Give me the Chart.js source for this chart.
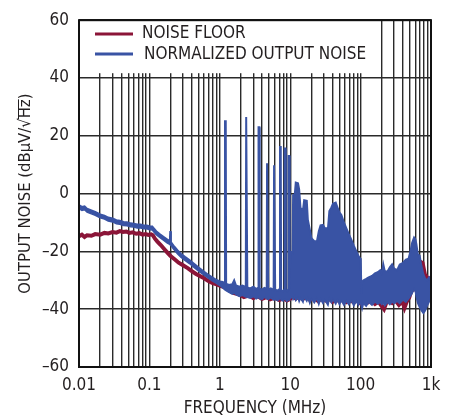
<!DOCTYPE html>
<html>
<head>
<meta charset="utf-8">
<script src="https://cdn.jsdelivr.net/npm/chart.js@4"></script>
<style>
  body { margin: 0; background: #fff; }
  #wrap { width: 458px; height: 419px; position: relative; }
</style>
</head>
<body>
<div id="wrap"><canvas id="chart"></canvas></div>
<script>
const FONT = "'Liberation Sans Narrow', 'DejaVu Sans Condensed', sans-serif";
const TEXT = "#231f20";
const RED = "#8b1538";
const BLUE = "#3953a4";

// x decades and their tick labels (MHz)
const xDecades = [0.01, 0.1, 1, 10, 100, 1000];
const xTickLabels = ["0.01", "0.1", "1", "10", "100", "1k"];
const yTicks = [-60, -40, -20, 0, 20, 40, 60];

const seriesNames = ["NOISE FLOOR", "NORMALIZED OUTPUT NOISE"];

// noise floor (MHz, dB)
const floorFreq = [0.01, 0.011, 0.012, 0.013, 0.015, 0.017, 0.02, 0.023, 0.026, 0.03, 0.034, 0.038, 0.042, 0.047, 0.052, 0.058, 0.065, 0.072, 0.08, 0.088, 0.097, 0.106, 0.112, 0.12, 0.13, 0.145, 0.16, 0.18, 0.2, 0.23, 0.26, 0.3, 0.35, 0.4, 0.46, 0.53, 0.6, 0.68, 0.78, 0.9, 1.0, 1.2, 1.4, 1.6, 1.9, 2.2, 2.6, 3.0, 3.4, 4, 4.6, 5.2, 6, 7, 8, 9, 10, 11, 12, 13.5, 15, 17, 19, 22, 25, 28, 32, 36, 40, 45, 50, 56, 63, 70, 80, 90, 100, 110, 125, 140, 160, 180, 200, 215, 230, 250, 280, 310, 350, 390, 420, 450, 490, 520, 560, 590, 620, 660, 700, 760, 820, 880, 950, 1000];
const floorDb = [-14.8, -14.2, -15.0, -14.4, -14.6, -14.0, -14.2, -13.6, -13.8, -13.3, -13.5, -13.0, -13.3, -13.1, -13.6, -13.4, -13.9, -13.7, -14.2, -14.0, -14.3, -14.1, -14.4, -15.6, -16.6, -17.8, -19.0, -20.4, -21.6, -22.8, -23.9, -24.8, -25.8, -26.8, -27.8, -28.6, -29.3, -30.2, -30.9, -31.4, -31.8, -32.5, -33.6, -34.4, -34.9, -35.8, -35.2, -36.2, -35.4, -36.4, -35.8, -36.6, -36.0, -36.8, -36.2, -37.0, -36.4, -35.6, -36.3, -35.5, -36.5, -35.8, -36.8, -36.0, -37.2, -36.2, -37.0, -36.4, -37.4, -36.6, -37.2, -36.5, -37.5, -36.8, -37.6, -36.9, -38.0, -37.2, -37.8, -37.0, -38.2, -37.4, -39.0, -40.0, -38.0, -37.0, -37.8, -36.8, -38.5, -37.2, -39.5, -37.5, -36.0, -34.0, -33.0, -29.5, -33.5, -35.0, -23.5, -24.0, -28.0, -29.0, -29.5, -29.0];

// normalized output noise, upper and lower edge of the trace (MHz, dB)
// below 1 MHz
const lfFreq = [0.01, 0.011, 0.012, 0.013, 0.015, 0.017, 0.02, 0.023, 0.026, 0.03, 0.034, 0.038, 0.043, 0.048, 0.054, 0.06, 0.067, 0.075, 0.083, 0.092, 0.1, 0.11, 0.115, 0.125, 0.14, 0.16, 0.18, 0.195, 0.198, 0.202, 0.22, 0.25, 0.28, 0.32, 0.37, 0.43, 0.5, 0.58, 0.67, 0.78, 0.9];
const lfHigh = [-4.0, -4.6, -4.4, -5.2, -5.8, -6.3, -7.2, -7.6, -8.3, -8.6, -9.2, -9.4, -9.8, -9.9, -10.3, -10.4, -10.7, -10.7, -11.0, -11.0, -11.3, -11.4, -12.0, -13.0, -14.0, -15.0, -15.9, -16.4, -13.0, -16.8, -18.0, -19.6, -20.8, -21.9, -23.0, -24.3, -25.6, -26.8, -27.9, -29.0, -29.9];
const lfLow = [-5.2, -5.8, -5.6, -6.4, -7.0, -7.5, -8.4, -8.8, -9.5, -9.8, -10.4, -10.6, -11.0, -11.1, -11.5, -11.6, -11.9, -11.9, -12.2, -12.2, -12.5, -12.6, -13.2, -14.2, -15.2, -16.2, -17.1, -17.6, -17.8, -18.0, -19.2, -20.8, -22.0, -23.1, -24.2, -25.5, -26.8, -28.0, -29.1, -30.2, -31.1];
// 1 to 10 MHz, with the switching spurs
const spurFreq = [1.0, 1.1, 1.17, 1.185, 1.215, 1.23, 1.35, 1.5, 1.6, 1.7, 1.9, 2.1, 2.34, 2.37, 2.43, 2.46, 2.7, 3.0, 3.3, 3.51, 3.55, 3.65, 3.69, 4.0, 4.3, 4.64, 4.69, 4.81, 4.87, 5.3, 5.82, 5.9, 6.05, 6.12, 6.6, 7.08, 7.16, 7.34, 7.43, 7.9, 8.24, 8.34, 8.56, 8.66, 9.0, 9.36, 9.48, 9.72, 9.84, 10.0];
const spurHigh = [-30.4, -30.6, -31.0, 25.0, 25.0, -31.2, -31.6, -31.4, -30.0, -31.8, -32.2, -31.8, -32.4, 26.5, 26.5, -32.5, -32.8, -32.2, -33.0, -32.6, 23.0, 23.0, -32.8, -33.2, -32.6, -33.0, 10.5, 10.5, -33.2, -32.8, -33.4, 9.8, 9.8, -33.2, -33.6, -33.0, 16.1, 16.1, -33.4, -33.8, -33.2, 15.6, 15.6, -33.4, -33.8, -33.2, 13.0, 13.0, -33.0, -20.0];
const spurLow = [-31.8, -32.6, -33.2, -33.3, -33.4, -33.6, -34.2, -34.8, -34.4, -35.0, -35.6, -35.2, -35.8, -35.8, -35.8, -35.9, -36.2, -35.6, -36.4, -36.0, -36.0, -36.0, -36.2, -36.6, -35.8, -36.4, -36.4, -36.4, -36.6, -36.0, -36.8, -36.8, -36.8, -36.6, -37.0, -36.4, -36.4, -36.4, -36.8, -37.2, -36.6, -36.6, -36.6, -36.8, -37.2, -36.8, -36.8, -36.8, -36.6, -36.2];
// above 10 MHz
const hfFreq = [10.8, 11.0, 11.6, 12.0, 12.9, 13.4, 14.0, 15.2, 15.8, 17.2, 17.8, 19.0, 20.0, 22.0, 24.0, 25.5, 27.0, 29.2, 31.0, 34.4, 36.0, 38.5, 40.5, 44.3, 47.0, 50.0, 53.3, 58.0, 62.8, 68.0, 74.0, 80.0, 87.0, 93.0, 97.0, 100.5, 102.6, 105, 110, 120, 130, 145, 160, 175, 190, 200, 210, 220, 240, 260, 280, 300, 330, 360, 400, 440, 480, 510, 540, 575, 600, 620, 650, 690, 730, 780, 830, 880, 940, 1000];
const hfHigh = [-20.5, -0.5, -0.4, 3.8, 3.6, 1.5, -5.0, -5.6, -2.3, -2.5, -9.0, -12.5, -15.4, -16.5, -16.5, -13.0, -11.0, -10.8, -12.0, -12.0, -6.0, -4.8, -3.5, -3.1, -4.8, -6.5, -7.4, -10.0, -12.0, -14.0, -16.0, -18.0, -20.0, -21.5, -22.3, -22.6, -34.7, -30.5, -30.0, -29.5, -29.0, -28.5, -27.6, -27.2, -26.5, -27.5, -24.5, -26.8, -27.0, -25.5, -24.5, -26.0, -26.5, -24.5, -24.0, -22.8, -22.5, -20.0, -17.0, -15.2, -15.8, -17.5, -21.0, -21.5, -25.0, -28.0, -29.5, -30.0, -29.0, -30.0];
const hfLow = [-35.8, -36.6, -35.6, -37.0, -36.0, -37.4, -36.2, -37.6, -35.8, -37.2, -36.0, -38.0, -36.4, -37.8, -36.2, -38.4, -36.6, -38.0, -36.8, -38.6, -36.4, -37.8, -36.6, -38.2, -36.8, -38.4, -37.0, -38.6, -37.2, -38.4, -37.0, -38.8, -37.2, -38.6, -37.6, -38.2, -39.0, -40.0, -38.0, -39.0, -37.6, -38.6, -37.4, -38.2, -37.6, -38.4, -37.8, -38.8, -37.6, -38.4, -37.4, -38.0, -37.2, -38.0, -36.8, -37.6, -36.4, -35.5, -34.5, -33.0, -34.0, -36.0, -38.0, -39.5, -40.5, -41.5, -40.5, -39.0, -37.5, -36.5];

const noiseFreq = lfFreq.concat(spurFreq, hfFreq);
const noiseHigh = lfHigh.concat(spurHigh, hfHigh);
const noiseLow = lfLow.concat(spurLow, hfLow);

function pts(xs, ys) {
  return xs.map((x, i) => ({ x: x, y: ys[i] }));
}

// minor log ticks 1..9 per decade
function logTicks() {
  const t = [];
  for (let d = 0; d < xDecades.length - 1; d++) {
    for (let m = 1; m <= 9; m++) t.push(Number((m * xDecades[d]).toPrecision(3)));
  }
  t.push(xDecades[xDecades.length - 1]);
  return t;
}

const frame = {
  id: "frame",
  beforeDatasetsDraw(chart) {
    const ctx = chart.ctx;
    const a = chart.chartArea;
    ctx.save();
    // legend box sits over the grid
    ctx.fillStyle = "#fff";
    ctx.fillRect(a.left, a.top, 289, 53);
    ctx.lineWidth = 3;
    ctx.strokeStyle = RED;
    ctx.beginPath(); ctx.moveTo(95, 34); ctx.lineTo(133, 34); ctx.stroke();
    ctx.strokeStyle = BLUE;
    ctx.beginPath(); ctx.moveTo(95, 54); ctx.lineTo(133, 54); ctx.stroke();
    ctx.fillStyle = TEXT;
    ctx.font = "17px " + FONT;
    ctx.textBaseline = "middle";
    ctx.fillText(seriesNames[0], 142, 34);
    ctx.fillText(seriesNames[1], 144, 55);
    ctx.restore();
  },
  afterDatasetsDraw(chart) {
    const ctx = chart.ctx;
    const a = chart.chartArea;
    ctx.save();
    ctx.strokeStyle = "#111";
    ctx.lineWidth = 2;
    ctx.strokeRect(a.left, a.top, a.right - a.left, a.bottom - a.top);
    // y title, overline on Hz
    const pre = "OUTPUT NOISE (dBμV/√";
    const hz = "Hz";
    const full = pre + hz + ")";
    ctx.font = "16.5px " + FONT;
    ctx.fillStyle = TEXT;
    ctx.translate(26, (a.top + a.bottom) / 2);
    ctx.rotate(-Math.PI / 2);
    ctx.textAlign = "left";
    ctx.textBaseline = "middle";
    const w = ctx.measureText(full).width;
    const x0 = -w / 2;
    ctx.fillText(full, x0, 0);
    const pw = ctx.measureText(pre).width;
    const hw = ctx.measureText(hz).width;
    ctx.strokeStyle = TEXT;
    ctx.lineWidth = 1;
    ctx.beginPath();
    ctx.moveTo(x0 + pw - 1, -7.5);
    ctx.lineTo(x0 + pw + hw, -7.5);
    ctx.stroke();
    ctx.restore();
  }
};

new Chart(document.getElementById("chart"), {
  type: "line",
  data: {
    datasets: [
      {
        label: seriesNames[1] + " low",
        data: pts(noiseFreq, noiseLow),
        borderColor: BLUE,
        borderWidth: 1.5,
        pointRadius: 0,
        fill: false
      },
      {
        label: seriesNames[1],
        data: pts(noiseFreq, noiseHigh),
        borderColor: BLUE,
        backgroundColor: BLUE,
        borderWidth: 2,
        pointRadius: 0,
        fill: "-1"
      },
      {
        label: seriesNames[0],
        data: pts(floorFreq, floorDb),
        borderColor: RED,
        borderWidth: 4,
        pointRadius: 0,
        fill: false
      }
    ]
  },
  options: {
    responsive: true,
    maintainAspectRatio: false,
    animation: false,
    layout: { padding: { top: 16, right: 27, left: 0, bottom: 0 } },
    plugins: {
      legend: { display: false },
      tooltip: { enabled: false }
    },
    elements: { line: { tension: 0 } },
    scales: {
      x: {
        type: "logarithmic",
        min: 0.01,
        max: 1000,
        afterBuildTicks: s => { s.ticks = logTicks().map(v => ({ value: v })); },
        afterFit: s => { s.height = 52; },
        border: { display: false },
        grid: { color: "#2a2a2a", lineWidth: 1.4, drawTicks: false },
        ticks: {
          autoSkip: false,
          maxRotation: 0,
          padding: 8,
          color: TEXT,
          font: { family: FONT, size: 17 },
          callback: v => {
            const i = xDecades.findIndex(d => Math.abs(d - v) < d * 1e-6);
            return i >= 0 ? xTickLabels[i] : "";
          }
        },
        title: {
          display: true,
          text: "FREQUENCY (MHz)",
          color: TEXT,
          font: { family: FONT, size: 17 },
          padding: { top: 0, bottom: 0 }
        }
      },
      y: {
        min: yTicks[0],
        max: yTicks[yTicks.length - 1],
        afterBuildTicks: s => { s.ticks = yTicks.map(v => ({ value: v })); },
        afterFit: s => { s.width = 79; },
        border: { display: false },
        grid: { color: "#2a2a2a", lineWidth: 1.5, drawTicks: false },
        ticks: {
          padding: 10,
          color: TEXT,
          font: { family: FONT, size: 17 },
          callback: v => (v < 0 ? "\u2013" + Math.abs(v) : String(v))
        }
      }
    }
  },
  plugins: [frame]
});
</script>
</body>
</html>
